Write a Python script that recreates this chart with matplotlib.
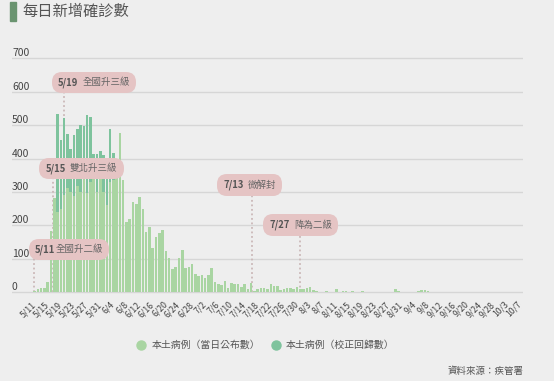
import matplotlib
matplotlib.use("Agg")
import matplotlib.pyplot as plt
import pandas as pd
from matplotlib.lines import Line2D
from matplotlib.patches import Rectangle
from matplotlib.offsetbox import TextArea, HPacker, DrawingArea, AnnotationBbox

plt.rcParams['font.family'] = ['Noto Sans CJK TC', 'DejaVu Sans']

# 日期 (10/1 沒有資料)
dates = [f"{d.month}/{d.day}" for d in pd.date_range("2021-05-11", "2021-10-07")]
dates = [d for d in dates if d != "10/1"]

# 本土病例 (當日公布數)
local = [4, 9, 14, 14, 30, 182, 281, 240, 250, 290,
         312, 300, 288, 318, 300, 340, 298, 330, 350, 300,
         340, 300, 262, 330, 335, 380, 477, 335, 211, 219,
         271, 265, 285, 249, 181, 196, 132, 166, 177, 186,
         125, 104, 70, 75, 102, 127, 74, 75, 85, 55,
         49, 51, 43, 53, 73, 32, 24, 23, 34, 12,
         28, 26, 24, 17, 24, 10, 27, 5, 11, 12,
         13, 11, 26, 19, 19, 7, 11, 13, 13, 11,
         17, 9, 9, 12, 15, 7, 3, 2, 2, 4,
         1, 2, 9, 2, 3, 3, 1, 5, 2, 1,
         4, 2, 1, 0, 2, 1, 1, 0, 1, 0,
         11, 4, 2, 2, 0, 0, 1, 3, 7, 6,
         5, 2, 1, 0, 1, 1, 0, 1, 1, 0,
         1, 0, 0, 1, 0, 1, 1, 0, 0, 0,
         1, 0, 0, 0, 0, 0, 0, 0, 0]

# 本土病例 (校正回歸數), 5/18 ~ 6/4
backlog = [0] * 7 + [293, 205, 232, 161, 130, 183, 170, 200, 158,
                     232, 195, 64, 114, 84, 110, 103, 158, 81] + [0] * 124

# 事件標註
ann_date = ["5/11", "5/15", "5/19", "7/13", "7/27"]
ann_sep = [0, 3, 3, 3, 3]
ann_text = ["全國升二級", "雙北升三級", "全國升三級", "微解封", "降為二級"]
ann_line_x = [-0.1, 5.6, 9.0, 66.2, 80.9]
ann_box_x = [10.4, 14.3, 18.1, 65.6, 81.1]
ann_box_y = [128, 370, 628, 321, 201]

bg = '#eeeeee'
c_light = '#a9d5a2'
c_dark = '#7ec39d'
c_text = '#555555'

fig = plt.figure(figsize=(5.54, 3.81), dpi=100, facecolor=bg)
ax = fig.add_axes([12 / 554, 0.2284, 511 / 554, 0.6247], facecolor=bg)

x = range(len(dates))
ax.bar(x, local, width=0.78, color=c_light, zorder=2)
ax.bar(x, backlog, width=0.78, bottom=local, color=c_dark, zorder=2)

for d, sep, t, lx, bx, by in zip(ann_date, ann_sep, ann_text, ann_line_x, ann_box_x, ann_box_y):
    ax.vlines(lx, 0, by, colors='#cbb8b8', linestyles=(0, (1, 1.5)), lw=1.3, zorder=1)
    ta_d = TextArea(d, textprops=dict(fontsize=6.8, fontweight='bold', color=c_text))
    ta_t = TextArea(t, textprops=dict(fontsize=6.8, color='#666666'))
    words = HPacker(children=[ta_d, ta_t], align='center', pad=0, sep=sep)
    pack = HPacker(children=[DrawingArea(1.2, 9.0), words, DrawingArea(1.2, 9.0)],
                   align='center', pad=0, sep=0)
    ab = AnnotationBbox(pack, (bx, by), xycoords='data', frameon=True, fontsize=6.5,
                        bboxprops=dict(boxstyle='round,pad=0.5,rounding_size=1.1',
                                       fc='#e5c4c4', ec='none'), zorder=4)
    ax.add_artist(ab)

ax.set_xlim(-6.9, 148.9)
ax.set_ylim(-5, 707)
ax.set_yticks(range(0, 701, 100))
ax.set_xticks(range(0, len(dates), 4))
ax.set_xticklabels(dates[::4], rotation=45, ha='right', va='center', rotation_mode='anchor')
ax.tick_params(axis='x', length=0, pad=6.5, labelsize=6.3, labelcolor='#444444')
ax.tick_params(axis='y', length=0, pad=0, labelsize=7.5, labelcolor='#444444')
for lb in ax.get_yticklabels():
    lb.set_horizontalalignment('left')
    lb.set_verticalalignment('bottom')
ax.yaxis.grid(True, color='#d6d6d6', lw=1)
ax.set_axisbelow(True)
for s in ax.spines.values():
    s.set_visible(False)

# 標題
fig.patches.append(Rectangle((10 / 554, 1 - 20.7 / 381), 5.7 / 554, 19 / 381,
                             transform=fig.transFigure, color='#6a9470'))
fig.text(22 / 554, 1 - 11 / 381, '每日新增確診數', ha='left', va='center',
         fontsize=11, color=c_text)

handles = [Line2D([], [], marker='o', ls='', color=c_light, markersize=6.5),
           Line2D([], [], marker='o', ls='', color=c_dark, markersize=6.5)]
fig.legend(handles, ['本土病例（當日公布數）', '本土病例（校正回歸數）'], loc='center',
           bbox_to_anchor=(0.4796, 0.0945), ncol=2, frameon=False, fontsize=7.1,
           handlelength=0.8, handletextpad=0.6, columnspacing=1.2, labelcolor=c_text)

fig.text(524 / 554, 1 - 371.7 / 381, '資料來源：疾管署', ha='right', va='center',
         fontsize=6.8, color=c_text)

fig.savefig('out.png', dpi=100, facecolor=bg)
